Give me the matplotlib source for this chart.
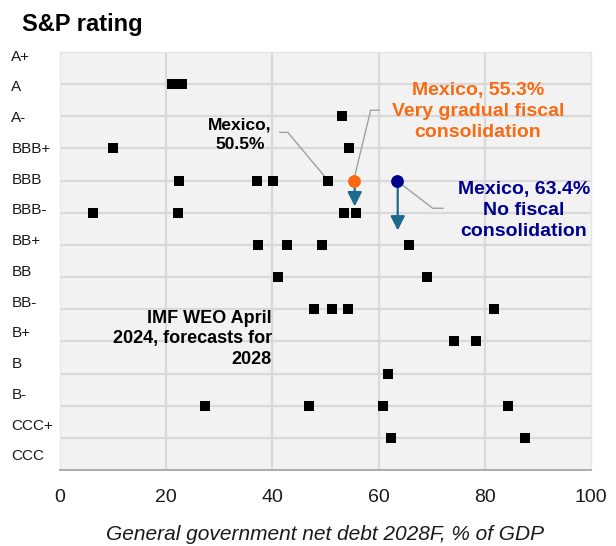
import matplotlib
matplotlib.use("Agg")
import matplotlib.pyplot as plt
import numpy as np

plt.rcParams['font.family'] = ['Liberation Sans', 'DejaVu Sans']

# ---------------- data ----------------
ratings = ['A+', 'A', 'A-', 'BBB+', 'BBB', 'BBB-', 'BB+', 'BB', 'BB-',
           'B+', 'B', 'B-', 'CCC+', 'CCC']

peer_rating = ['A', 'A', 'A-', 'BBB+', 'BBB+', 'BBB', 'BBB', 'BBB', 'BBB',
               'BBB-', 'BBB-', 'BBB-', 'BBB-', 'BB+', 'BB+', 'BB+', 'BB+',
               'BB', 'BB', 'BB-', 'BB-', 'BB-', 'BB-', 'B+', 'B+', 'B',
               'B-', 'B-', 'B-', 'B-', 'CCC+', 'CCC+']
peer_debt = [21.0, 23.0, 53.1, 9.9, 54.5, 22.5, 37.1, 40.2, 50.5,
             6.3, 22.3, 53.5, 55.8, 37.2, 42.7, 49.3, 65.8,
             41.0, 69.1, 47.9, 51.2, 54.2, 81.7, 74.2, 78.3, 61.7,
             27.4, 46.8, 60.9, 84.3, 62.3, 87.5]

mexico_rating = 'BBB'
mexico_base = 50.5
scenario_debt = [55.3, 63.4]
scenario_drop = [0.8, 1.55]          # implied downgrade, in notches
scenario_color = ['#F96A12', '#00008F']
scenario_text = ['Mexico, 55.3%\nVery gradual fiscal\nconsolidation',
                 'Mexico, 63.4%\nNo fiscal\nconsolidation']

xticks = [0, 20, 40, 60, 80, 100]

# ---------------- figure ----------------
W, H = 616, 546
fig = plt.figure(figsize=(W / 100, H / 100), dpi=100)
ax = fig.add_axes([60 / W, (H - 470) / H, (591 - 60) / W, (470 - 52) / H])

n = len(ratings)
ypos = {r: n - 1 - i for i, r in enumerate(ratings)}   # A+ top = 13, CCC = 0

ax.set_facecolor('#F2F2F2')
ax.set_xlim(0, 100)
ax.set_ylim(0, n - 1)

# grid
for v in range(1, n - 1):
    ax.axhline(v, color='#D9D9D9', lw=1.6, zorder=1)
for v in xticks[1:-1]:
    ax.axvline(v, color='#D9D9D9', lw=1.6, zorder=1)

# peers
ax.scatter(peer_debt, [ypos[r] for r in peer_rating], marker='s', s=62,
           color='black', linewidths=0, zorder=4)

# scenarios with arrows
y0 = ypos[mexico_rating]
for xd, drop, col in zip(scenario_debt, scenario_drop, scenario_color):
    ax.annotate('', xy=(xd + 0.2, y0 - drop), xytext=(xd + 0.2, y0),
                arrowprops=dict(arrowstyle='-|>,head_width=0.43,head_length=0.85',
                                color='#1D6A8E', lw=1.6, shrinkA=0, shrinkB=0,
                                mutation_scale=10), zorder=3)
    ax.scatter([xd], [y0], marker='o', s=85, color=col, linewidths=0, zorder=5)

# leader lines
lc = '#A0A0A0'
ax.plot([41.4, 42.9, mexico_base], [10.5, 10.5, y0], color=lc, lw=1.0, zorder=2)
ax.plot([60.1, 58.5, scenario_debt[0]], [11.19, 11.19, y0], color=lc, lw=1.0, zorder=2)
ax.plot([scenario_debt[1], 70.2, 72.1], [y0, 8.14, 8.14], color=lc, lw=1.0, zorder=2)

# annotations
ax.text(33.9, 10.42, 'Mexico,\n50.5%', ha='center', va='center', fontsize=12.5,
        fontweight='bold', linespacing=1.4, zorder=6)
ax.text(78.7, 11.14, scenario_text[0], ha='center', va='center', fontsize=14,
        fontweight='bold', color=scenario_color[0], linespacing=1.32, zorder=6)
ax.text(87.4, 8.07, scenario_text[1], ha='center', va='center', fontsize=14,
        fontweight='bold', color=scenario_color[1], linespacing=1.32, zorder=6)
ax.text(39.9, 4.08, 'IMF WEO April\n2024, forecasts for\n2028', ha='right',
        va='center', multialignment='right', fontsize=13, fontweight='bold',
        linespacing=1.27, zorder=6)

# axes styling
ax.set_xticks(xticks)
ax.set_xticklabels([str(v) for v in xticks], fontsize=14, color='#1A1A1A')
ax.tick_params(axis='x', length=0, pad=14)

label_pos = np.linspace(12.9, 0.47, n)
ax.set_yticks(label_pos)
ax.set_yticklabels(ratings, fontsize=11, ha='left', color='#1A1A1A')
ax.tick_params(axis='y', length=0, pad=35)

for s in ['top', 'right', 'left']:
    ax.spines[s].set_color('#E6E6E6')
    ax.spines[s].set_linewidth(1.0)
ax.spines['bottom'].set_color('#A6A6A6')
ax.spines['bottom'].set_linewidth(1.3)

ax.set_xlabel('General government net debt 2028F, % of GDP', fontsize=15,
              style='italic', color='#1A1A1A', labelpad=13)

fig.text(22 / W, 1 - 24 / H, 'S&P rating', fontsize=17, fontweight='bold',
         va='center', ha='left')

fig.savefig('out.png', dpi=100)
